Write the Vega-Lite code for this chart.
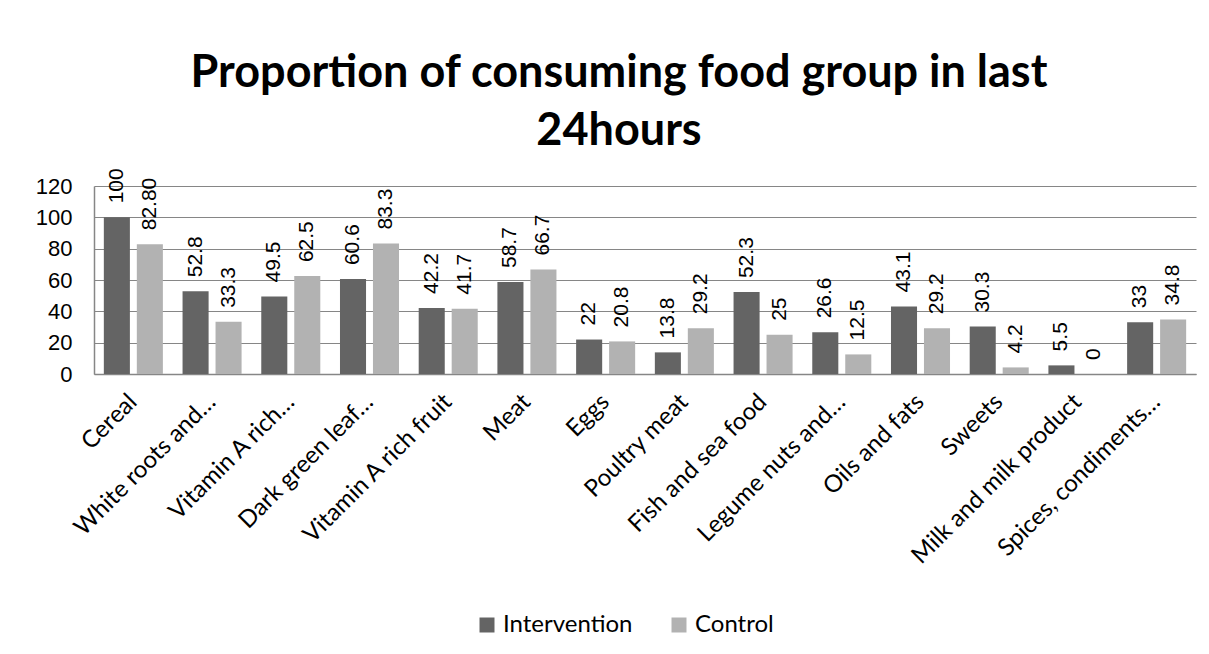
{
  "$schema": "https://vega.github.io/schema/vega-lite/v6.json",
  "width": 1102,
  "height": 188,
  "autosize": "none",
  "padding": {"left": 94, "top": 186, "right": 13, "bottom": 280},
  "background": "white",
  "title": {
    "text": ["Proportion of consuming food group in last", "24hours"],
    "font": "Lato",
    "fontSize": 45,
    "fontWeight": "bold",
    "color": "black",
    "anchor": "middle",
    "dx": -26,
    "lineHeight": 58,
    "offset": 14
  },
  "data": {
    "values": [
      {"food": "Cereal", "group": "Intervention", "value": 100, "label": "100"},
      {"food": "Cereal", "group": "Control", "value": 82.8, "label": "82.80"},
      {"food": "White roots and…", "group": "Intervention", "value": 52.8, "label": "52.8"},
      {"food": "White roots and…", "group": "Control", "value": 33.3, "label": "33.3"},
      {"food": "Vitamin A rich…", "group": "Intervention", "value": 49.5, "label": "49.5"},
      {"food": "Vitamin A rich…", "group": "Control", "value": 62.5, "label": "62.5"},
      {"food": "Dark green leaf…", "group": "Intervention", "value": 60.6, "label": "60.6"},
      {"food": "Dark green leaf…", "group": "Control", "value": 83.3, "label": "83.3"},
      {"food": "Vitamin A rich fruit", "group": "Intervention", "value": 42.2, "label": "42.2"},
      {"food": "Vitamin A rich fruit", "group": "Control", "value": 41.7, "label": "41.7"},
      {"food": "Meat", "group": "Intervention", "value": 58.7, "label": "58.7"},
      {"food": "Meat", "group": "Control", "value": 66.7, "label": "66.7"},
      {"food": "Eggs", "group": "Intervention", "value": 22, "label": "22"},
      {"food": "Eggs", "group": "Control", "value": 20.8, "label": "20.8"},
      {"food": "Poultry meat", "group": "Intervention", "value": 13.8, "label": "13.8"},
      {"food": "Poultry meat", "group": "Control", "value": 29.2, "label": "29.2"},
      {"food": "Fish and sea food", "group": "Intervention", "value": 52.3, "label": "52.3"},
      {"food": "Fish and sea food", "group": "Control", "value": 25, "label": "25"},
      {"food": "Legume nuts and…", "group": "Intervention", "value": 26.6, "label": "26.6"},
      {"food": "Legume nuts and…", "group": "Control", "value": 12.5, "label": "12.5"},
      {"food": "Oils and fats", "group": "Intervention", "value": 43.1, "label": "43.1"},
      {"food": "Oils and fats", "group": "Control", "value": 29.2, "label": "29.2"},
      {"food": "Sweets", "group": "Intervention", "value": 30.3, "label": "30.3"},
      {"food": "Sweets", "group": "Control", "value": 4.2, "label": "4.2"},
      {"food": "Milk and milk product", "group": "Intervention", "value": 5.5, "label": "5.5"},
      {"food": "Milk and milk product", "group": "Control", "value": 0, "label": "0"},
      {"food": "Spices, condiments…", "group": "Intervention", "value": 33, "label": "33"},
      {"food": "Spices, condiments…", "group": "Control", "value": 34.8, "label": "34.8"}
    ]
  },
  "encoding": {
    "x": {
      "field": "food",
      "type": "nominal",
      "sort": null,
      "title": null,
      "scale": {"paddingInner": 0.25, "paddingOuter": 0.125},
      "axis": {
        "labelAngle": -45,
        "labelAlign": "right",
        "labelBaseline": "middle",
        "labelFont": "Lato",
        "labelFontSize": 24,
        "labelColor": "black",
        "labelPadding": 24,
        "labelLimit": 400,
        "ticks": false,
        "domainColor": "#868686",
        "domainWidth": 1.5
      }
    },
    "xOffset": {
      "field": "group",
      "type": "nominal",
      "sort": ["Intervention", "Control"],
      "scale": {"paddingInner": 0.21, "paddingOuter": 0}
    },
    "y": {
      "field": "value",
      "type": "quantitative",
      "title": null,
      "scale": {"domain": [0, 120], "nice": false},
      "axis": {
        "values": [0, 20, 40, 60, 80, 100, 120],
        "labelFont": "Liberation Sans",
        "labelFontSize": 22,
        "labelColor": "black",
        "labelPadding": 22,
        "ticks": false,
        "gridColor": "#868686",
        "gridWidth": 1.2,
        "domainColor": "#868686",
        "domainWidth": 1.5
      }
    }
  },
  "layer": [
    {
      "mark": {"type": "bar"},
      "encoding": {
        "color": {
          "field": "group",
          "type": "nominal",
          "sort": ["Intervention", "Control"],
          "scale": {"domain": ["Intervention", "Control"], "range": ["#646464", "#b2b2b2"]},
          "legend": {
            "title": null,
            "orient": "none",
            "direction": "horizontal",
            "legendX": 381,
            "legendY": 427,
            "symbolType": "square",
            "symbolSize": 225,
            "symbolStrokeWidth": 0,
            "labelFont": "Lato",
            "labelFontSize": 24,
            "labelColor": "black",
            "labelOffset": 4,
            "columnPadding": 34
          }
        }
      }
    },
    {
      "mark": {
        "type": "text",
        "angle": 270,
        "align": "left",
        "baseline": "middle",
        "dx": 14,
        "font": "Liberation Sans",
        "fontSize": 21,
        "color": "black"
      },
      "encoding": {
        "text": {"field": "label"}
      }
    }
  ],
  "config": {
    "view": {"stroke": null}
  }
}
